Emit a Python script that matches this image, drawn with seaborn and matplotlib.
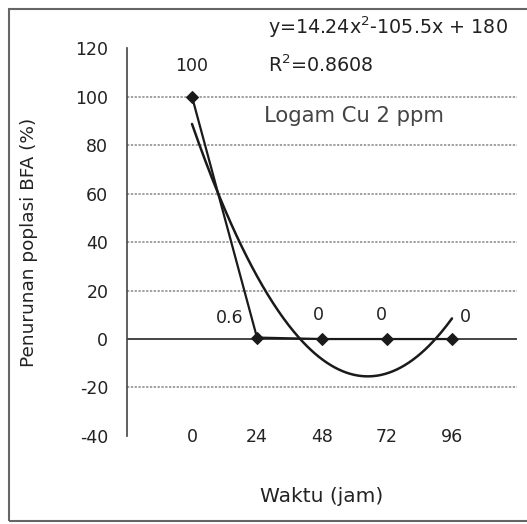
import numpy as np
import pandas as pd
import matplotlib.pyplot as plt
import seaborn as sns
from matplotlib.patches import Rectangle

# data
waktu = ['0', '24', '48', '72', '96']
penurunan = [100, 0.6, 0, 0, 0]
label_teks = ['100', '0.6', '0', '0', '0']
# polynomial trendline printed on the chart (x = 1..5)
koef = [14.24, -105.5, 180]
r2 = 0.8608

sns.set_style("white")
plt.rcParams['font.family'] = ['DejaVu Sans']
plt.rcParams['axes.unicode_minus'] = False

fig = plt.figure(figsize=(5.27, 5.24), dpi=100)
ax = fig.add_axes([0.241, 0.168, 0.740, 0.740])

df = pd.DataFrame({'pos': np.arange(len(waktu)), 'nilai': penurunan})
sns.lineplot(data=df, x='pos', y='nilai', ax=ax, color='#1a1a1a', lw=1.6,
             marker='D', markersize=6.5, markeredgecolor='#1a1a1a')

xs = np.linspace(1, len(waktu), 200)
tren = pd.DataFrame({'pos': xs - 1, 'nilai': np.polyval(koef, xs)})
sns.lineplot(data=tren, x='pos', y='nilai', ax=ax, color='#1a1a1a', lw=1.8)

ax.set_xlim(-1, 5)
ax.set_ylim(-40, 120)
ax.set_yticks(range(-40, 121, 20))
ax.set_xticks(range(len(waktu)))
ax.set_xticklabels(waktu)
for y in [-20, 20, 40, 60, 80, 100]:
    ax.axhline(y, color='#888888', lw=1.1, ls=(0, (1.5, 1)), zorder=0)
ax.axhline(0, color='#444444', lw=1.4, zorder=1)

for s in ['top', 'right', 'bottom']:
    ax.spines[s].set_visible(False)
ax.spines['left'].set_color('#444444')
ax.spines['left'].set_linewidth(1.2)
ax.tick_params(axis='y', length=6.5, width=1, color='#444444', pad=7,
               labelsize=12.5, labelcolor='#222222')
ax.tick_params(axis='x', length=0, pad=-6, labelsize=12.5, labelcolor='#222222')

ax.set_xlabel('Waktu (jam)', fontsize=14.5, color='#222222', labelpad=30)
ax.set_ylabel('Penurunan poplasi BFA (%)', fontsize=13.3, color='#222222', labelpad=27)

# data labels
offsets = [(0, 12.5), (-0.42, 8), (-0.06, 10), (-0.08, 10), (0.2, 9)]
for i, t in enumerate(label_teks):
    dx, dy = offsets[i]
    ax.text(i + dx, penurunan[i] + dy, t, ha='center', va='center',
            fontsize=12.5, color='#222222')

ax.text(1.17, 128.5, 'y=14.24x$^2$-105.5x + 180', fontsize=13.8, color='#222222',
        va='center', clip_on=False)
ax.text(1.17, 113, 'R$^2$=0.8608', fontsize=13.8, color='#222222', va='center',
        clip_on=False)
ax.text(1.1, 92, 'Logam Cu 2 ppm', fontsize=15.2, color='#444444', va='center')

fig.patches.append(Rectangle((9 / 527, 3 / 524), 2, 1 - 12 / 524,
                             transform=fig.transFigure, fill=False,
                             edgecolor='#666666', lw=1.5))

fig.savefig('out.png', dpi=100)
